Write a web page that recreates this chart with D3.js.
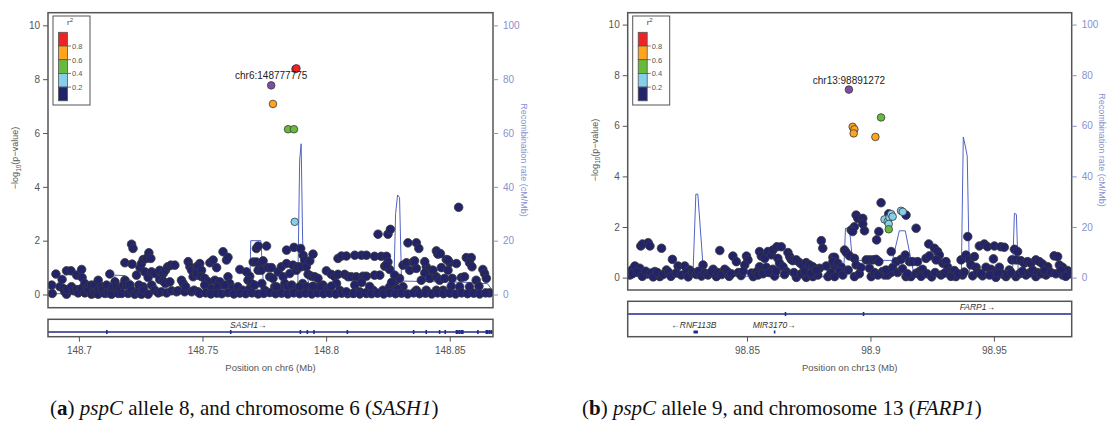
<!DOCTYPE html>
<html>
<head>
<meta charset="utf-8">
<title>LocusZoom plots</title>
<script src="https://cdnjs.cloudflare.com/ajax/libs/d3/7.8.5/d3.min.js"></script>
<style>
  body{margin:0;background:#fff;}
  svg{display:block;font-family:"Liberation Sans",Arial,sans-serif;}
</style>
</head>
<body>
<script>
// ---- LD legend ----
const ldBreaks = [0.2, 0.4, 0.6, 0.8];
const ldColors = ['#22236b', '#87ceeb', '#66bb3c', '#ffa41c', '#ee2326'];
const leadColor = '#7b4ea3';

// ---- chr6 (SASH1) : [position Mb, -log10 p] for r2 < 0.2 ----
const chr6Snps = [
 [148.6890,0.35],[148.6892,0.04],[148.6907,0.76],[148.6923,0.29],[148.6932,0.56],[148.6937,0.22],[148.6943,0.10],
 [148.6950,0.88],[148.6950,0.01],[148.6954,0.18],[148.6968,0.88],[148.6970,0.29],[148.6978,0.14],[148.6991,0.72],
 [148.6991,0.18],[148.6997,0.06],[148.7011,0.93],[148.7011,0.22],[148.7013,0.63],[148.7024,0.41],[148.7024,0.06],
 [148.7038,0.29],[148.7038,0.14],[148.7051,0.35],[148.7051,0.01],[148.7065,0.35],[148.7065,0.06],[148.7078,0.53],
 [148.7078,0.16],[148.7078,0.01],[148.7092,0.29],[148.7098,0.16],[148.7105,0.04],[148.7112,0.35],[148.7118,0.06],
 [148.7125,0.76],[148.7132,0.16],[148.7132,0.01],[148.7138,0.29],[148.7146,0.47],[148.7152,0.29],[148.7159,0.04],
 [148.7166,0.22],[148.7173,0.04],[148.7180,0.35],[148.7186,1.18],[148.7186,0.53],[148.7193,0.35],[148.7199,0.04],
 [148.7206,0.35],[148.7213,1.87],[148.7213,0.16],[148.7215,1.13],[148.7219,1.71],[148.7226,0.01],[148.7233,0.72],
 [148.7240,0.10],[148.7243,0.35],[148.7247,1.00],[148.7253,1.15],[148.7253,0.01],[148.7260,1.30],[148.7260,0.29],
 [148.7262,0.16],[148.7267,0.84],[148.7273,1.34],[148.7280,0.63],[148.7280,0.01],[148.7283,1.55],[148.7291,1.34],
 [148.7294,0.84],[148.7294,0.35],[148.7307,0.78],[148.7307,0.16],[148.7321,0.06],[148.7327,0.90],[148.7327,0.56],
 [148.7334,0.10],[148.7341,0.78],[148.7341,0.50],[148.7350,0.90],[148.7350,0.41],[148.7355,0.06],[148.7359,1.03],
 [148.7368,0.47],[148.7372,1.09],[148.7375,0.14],[148.7388,1.09],[148.7395,0.10],[148.7401,0.14],[148.7415,0.53],
 [148.7422,0.41],[148.7428,0.10],[148.7432,0.29],[148.7442,1.22],[148.7449,1.03],[148.7456,0.90],[148.7456,0.10],
 [148.7462,0.66],[148.7466,0.16],[148.7476,1.03],[148.7482,0.72],[148.7482,0.10],[148.7489,1.15],
 [148.7482,1.03],[148.7476,0.78],[148.7496,0.90],[148.7496,0.66],[148.7509,0.60],[148.7530,1.18],[148.7543,1.28],
 [148.7557,1.00],[148.7583,1.59],[148.7597,1.28],[148.7603,1.38],[148.7523,0.47],[148.7550,0.53],[148.7570,0.47],
 [148.7603,0.66],[148.7610,0.41],[148.7651,0.93],[148.7678,0.84],[148.7691,0.68],[148.7684,0.53],[148.7698,0.41],
 [148.7705,1.21],[148.7718,1.71],[148.7725,1.80],[148.7718,1.21],[148.7732,1.09],[148.7725,0.90],[148.7738,0.90],
 [148.7745,1.25],[148.7759,1.80],[148.7765,1.00],[148.7779,1.00],[148.7772,0.66],[148.7785,0.60],[148.7806,0.84],
 [148.7819,1.03],[148.7826,0.66],[148.7840,1.15],[148.7840,1.65],[148.7853,0.78],[148.7866,1.09],[148.7870,1.75],
 [148.7880,0.90],[148.7886,1.03],[148.7900,1.03],[148.7897,1.71],[148.7907,1.46],[148.7913,1.28],[148.7920,1.03],
 [148.7934,1.25],[148.7947,1.50],[148.7927,0.75],[148.7941,0.68],[148.7954,0.66],[148.7967,0.60],[148.7987,0.35],
 [148.8001,0.88],[148.8021,0.75],[148.8035,0.66],[148.8048,0.75],[148.8042,0.41],[148.8048,1.34],[148.8062,1.43],
 [148.8082,1.43],[148.8075,0.75],[148.8089,0.66],
 [148.7509,0.35],[148.7538,0.22],[148.7562,0.29],[148.7590,0.35],[148.7622,0.22],[148.7643,0.29],[148.7663,0.16],
 [148.7691,0.22],[148.7711,0.35],[148.7740,0.41],[148.7752,0.16],[148.7792,0.29],[148.7812,0.22],[148.7833,0.41],
 [148.7845,0.29],[148.7861,0.35],[148.7881,0.22],[148.7905,0.41],[148.7921,0.29],[148.7946,0.22],[148.7974,0.29],
 [148.7994,0.16],[148.8015,0.22],[148.8055,0.16],
 [148.7489,0.04],[148.7513,0.06],[148.7534,0.02],[148.7558,0.05],[148.7578,0.03],[148.7603,0.07],[148.7627,0.02],
 [148.7651,0.05],[148.7675,0.03],[148.7700,0.06],[148.7725,0.02],[148.7748,0.04],[148.7772,0.07],[148.7796,0.03],
 [148.7820,0.05],[148.7845,0.02],[148.7869,0.06],[148.7893,0.03],[148.7917,0.05],[148.7942,0.02],[148.7966,0.06],
 [148.7990,0.03],[148.8015,0.05],[148.8039,0.02],[148.8063,0.05],[148.8087,0.03],
 [148.8109,0.04],[148.8116,1.46],[148.8143,1.46],[148.8163,1.46],[148.8196,1.42],[148.8223,1.42],[148.8244,1.42],
 [148.8250,1.21],[148.8237,1.05],[148.8257,0.93],[148.8196,0.72],[148.8217,0.72],[148.8102,0.66],[148.8122,0.66],
 [148.8149,0.68],[148.8163,0.68],[148.8210,2.24],[148.8250,2.24],[148.8260,2.42],[148.8536,3.24],[148.8331,1.92],
 [148.8365,1.92],[148.8375,1.71],[148.8446,1.62],[148.8452,1.50],[148.8462,1.52],[148.8430,0.90],[148.8466,1.00],
 [148.8486,1.30],[148.8500,1.18],[148.8493,0.90],[148.8527,1.15],[148.8547,0.63],[148.8567,1.37],[148.8587,1.37],
 [148.8580,1.18],[148.8590,1.03],[148.8634,0.93],[148.8641,0.78],[148.8648,0.60],[148.8661,0.06],[148.8311,1.09],
 [148.8325,1.18],[148.8352,1.21],[148.8338,0.90],[148.8365,0.97],[148.8405,1.03],[148.8412,0.90],[148.8399,0.80],
 [148.8385,0.53],[148.8419,0.60],[148.8446,0.66],[148.8459,0.53],[148.8479,0.60],[148.8510,0.60],[148.8560,0.66],
 [148.8607,0.53],[148.8618,0.31],[148.8580,0.29],[148.8540,0.29],[148.8506,0.31],[148.8473,0.16],[148.8446,0.16],
 [148.8405,0.16],[148.8365,0.16],[148.8311,0.29],[148.8284,0.53],[148.8277,0.26],[148.8257,0.29],[148.8230,0.16],
 [148.8190,0.16],[148.8163,0.04],[148.8136,0.10],[148.8082,0.10],[148.8021,0.31],[148.7974,0.29],[148.7947,0.31],
 [148.7893,0.29],[148.7799,0.29],[148.8358,1.25],[148.8297,0.60],[148.8277,0.72],[148.8244,1.09],[148.8399,1.22],
 [148.8432,0.90],[148.8493,1.28],[148.8116,0.35],[148.8144,0.45],[148.8176,0.30],[148.8265,0.45],[148.8289,0.20],
 [148.8112,0.05],[148.8136,0.02],[148.8160,0.06],[148.8184,0.03],[148.8208,0.05],[148.8233,0.02],[148.8257,0.06],
 [148.8281,0.03],[148.8305,0.05],[148.8330,0.02],[148.8354,0.06],[148.8378,0.03],[148.8402,0.05],[148.8427,0.02],
 [148.8451,0.06],[148.8475,0.03],[148.8500,0.05],[148.8524,0.02],[148.8548,0.06],[148.8572,0.03],[148.8597,0.05],
 [148.8621,0.02],[148.8645,0.06]
];
// [position Mb, -log10 p, r2] for SNPs in LD with the lead
const chr6LdSnps = [
 [148.7873,2.70,0.30],[148.7846,6.14,0.50],[148.7870,6.14,0.50],[148.7785,7.08,0.70],
 [148.7876,8.38,0.90],[148.7880,8.40,0.90]
];
const chr6Lead = {name: 'chr6:148777775', pos: 148.777775, logp: 7.77};
const chr6RecombPos = [148.6891,148.7142,148.7146,148.7186,148.7255,148.7287,148.7295,148.7307,148.7327,148.7691,
 148.7695,148.7736,148.7748,148.7885,148.7893,148.7899,148.7905,148.7913,148.7942,148.8273,148.8281,148.8289,
 148.8297,148.8305,148.8580,148.8653,148.8673];
const chr6RecombRate = [0.3,0.3,7.2,7.0,2.0,1.5,0.3,4.5,0.5,0.5,20,20,0.8,0.8,50,56,20,9,1,0.5,30,37,36,5,4.5,4.0,1.5];
const chr6Genes = [{name: 'SASH1', strand: '+', start: 148.66, end: 148.88, labelPos: 148.7685,
 exons: [148.7113,148.7614,148.7896,148.7924,148.7951,148.8086,148.8354,148.8405,148.8459,148.8482,
  148.8527,148.8533,148.8540,148.8547,148.8553,148.8614,148.8648,148.8654,148.8661,148.8668], row: 0}];

// ---- chr13 (FARP1) ----
const chr13Snps = [
 [98.8026,0.10],[98.8033,0.30],[98.8046,0.46],[98.8066,0.37],[98.8070,1.25],[98.8077,1.33],[98.8100,1.38],
 [98.8107,1.25],[98.8154,1.16],[98.8096,0.14],[98.8127,0.24],[98.8147,0.04],[98.8174,0.30],[98.8198,0.72],
 [98.8221,0.46],[98.8248,0.46],[98.8268,0.30],[98.8322,0.50],[98.8390,1.07],[98.8363,0.33],[98.8410,0.33],
 [98.8443,0.85],[98.8457,0.63],[98.8498,0.85],[98.8504,0.70],[98.8491,0.50],[98.8551,1.03],[98.8558,0.85],
 [98.8572,0.76],[98.8585,1.03],[98.8599,0.90],[98.8605,1.09],[98.8621,1.22],[98.8639,1.22],[98.8625,0.76],
 [98.8632,0.57],[98.8666,0.99],[98.8673,0.83],[98.8679,0.72],[98.8686,0.67],[98.8700,0.70],[98.8713,0.59],
 [98.8724,0.50],[98.8740,0.59],[98.8754,0.50],[98.8767,0.43],[98.8774,0.30],[98.8801,1.46],[98.8807,1.16],
 [98.8794,0.37],[98.8821,0.46],[98.8848,0.80],[98.8855,0.46],[98.8551,0.43],[98.8578,0.41],[98.8605,0.33],
 [98.8646,0.43],[98.8659,0.24],[98.8700,0.01],[98.8740,0.01],[98.8767,0.04],[98.8787,0.10],
 [98.8036,0.15],[98.8056,0.22],[98.8076,0.05],[98.8090,0.25],[98.8112,0.18],[98.8120,0.03],[98.8137,0.20],
 [98.8160,0.12],[98.8182,0.22],[98.8192,0.05],[98.8213,0.18],[98.8234,0.10],[98.8255,0.22],[98.8262,0.03],
 [98.8280,0.20],[98.8295,0.12],[98.8303,0.25],[98.8316,0.06],[98.8330,0.18],[98.8342,0.10],[98.8355,0.22],
 [98.8376,0.04],[98.8383,0.20],[98.8398,0.12],[98.8420,0.24],[98.8428,0.05],[98.8437,0.15],[98.8465,0.20],
 [98.8476,0.08],[98.8485,0.25],[98.8518,0.18],[98.8525,0.04],[98.8538,0.22],[98.8545,0.10],[98.8565,0.15],
 [98.8590,0.20],[98.8612,0.06],[98.8618,0.25],[98.8652,0.12],[98.8690,0.20],[98.8720,0.15],[98.8733,0.25],
 [98.8760,0.18],[98.8781,0.28],[98.8828,0.04],[98.8840,0.20],
 [98.9043,2.96],[98.8942,2.47],[98.8949,2.34],[98.8969,2.34],[98.8969,2.12],[98.8976,1.85],[98.8935,2.01],
 [98.8922,1.88],[98.8928,1.82],[98.9034,1.82],[98.9025,1.49],[98.9144,2.47],[98.9074,2.52],[98.9185,1.95],
 [98.9084,1.03],[98.8895,1.09],[98.8902,0.99],[98.8915,0.86],[98.8935,0.76],[98.8942,0.50],[98.8855,0.80],
 [98.8848,0.63],[98.8868,0.57],[98.8882,0.41],[98.8875,0.24],[98.8888,0.10],[98.8855,0.04],[98.8935,0.04],
 [98.8983,0.70],[98.8996,0.70],[98.9010,0.70],[98.9023,0.72],[98.9034,0.63],[98.8996,0.37],[98.9003,0.04],
 [98.9049,0.24],[98.9057,0.10],[98.9070,0.10],[98.9084,0.20],[98.9104,0.63],[98.9124,0.72],[98.9141,0.89],
 [98.9158,0.63],[98.9171,0.63],[98.9191,0.63],[98.9144,0.04],[98.9164,0.04],[98.9185,0.17],[98.9198,0.24],
 [98.9211,0.33],[98.9225,0.76],[98.9236,1.33],[98.9239,0.86],[98.9259,1.16],[98.9272,1.03],[98.9279,0.89],
 [98.9266,0.70],[98.9293,0.57],[98.9306,0.63],[98.9313,0.41],[98.9320,0.24],[98.9340,0.28],[98.9346,0.04],
 [98.9367,0.70],[98.9387,0.89],[98.9394,1.62],[98.9401,0.70],[98.9407,0.50],[98.9421,0.83],[98.9428,0.41],
 [98.9441,1.25],[98.9461,1.33],[98.9474,1.22],[98.9502,1.25],[98.9528,1.22],[98.9542,1.20],[98.9498,0.74],
 [98.9468,0.41],[98.9488,0.33],[98.9508,0.24],[98.9522,0.41],[98.9535,0.14],[98.9562,0.30],[98.9583,1.12],
 [98.9596,1.03],[98.9573,0.70],[98.9589,0.70],[98.9609,0.67],[98.9623,0.57],[98.9636,0.63],[98.9650,0.57],
 [98.9670,0.70],[98.9684,0.63],[98.9697,0.54],[98.9718,0.43],[98.9744,0.86],[98.9758,0.83],[98.9765,0.50],
 [98.9778,0.41],[98.9785,0.24],[98.9798,0.28],[98.9805,0.14],[98.9778,0.10],[98.9711,0.10],[98.9670,0.04],
 [98.9630,0.10],[98.9589,0.04],[98.9549,0.04],[98.9508,0.01],[98.9454,0.07],[98.9414,0.07],[98.9373,0.10],
 [98.9205,0.05],[98.9230,0.15],[98.9248,0.03],[98.9262,0.20],[98.9286,0.10],[98.9300,0.18],[98.9326,0.05],
 [98.9355,0.15],[98.9380,0.22],[98.9435,0.20],[98.9448,0.15],[98.9482,0.10],[98.9515,0.18],[98.9555,0.12],
 [98.9570,0.20],[98.9603,0.15],[98.9615,0.25],[98.9643,0.18],[98.9657,0.30],[98.9677,0.20],[98.9690,0.15],
 [98.9704,0.28],[98.9731,0.20],[98.9751,0.15],[98.9771,0.30],[98.9791,0.05],
 [98.8910,0.30],[98.8955,0.15],[98.8962,0.40],[98.9017,0.20],[98.9030,0.10],[98.9063,0.30],[98.9090,0.40],
 [98.9110,0.20],[98.9130,0.35],[98.9150,0.15]
];
const chr13LdSnps = [
 [98.9057,2.30,0.30],[98.9070,2.21,0.30],[98.9077,2.38,0.30],[98.9084,2.51,0.30],[98.9090,2.41,0.30],
 [98.9074,2.12,0.30],[98.9124,2.64,0.30],[98.9131,2.60,0.30],[98.9074,1.91,0.50],[98.9043,6.33,0.50],
 [98.8928,5.96,0.70],[98.8935,5.86,0.70],[98.8932,5.70,0.70],[98.9020,5.56,0.70]
];
const chr13Lead = {name: 'chr13:98891272', pos: 98.891272, logp: 7.43};
const chr13RecombPos = [98.8017,98.8281,98.8293,98.8301,98.8325,98.8632,98.8644,98.8673,98.8685,98.8891,98.8899,
 98.8915,98.8927,98.9089,98.9117,98.9141,98.9178,98.9368,98.9376,98.9384,98.9392,98.9401,98.9575,98.9583,
 98.9591,98.9599,98.9809];
const chr13RecombRate = [0.4,0.4,33,33,0.6,0.5,1.2,1.2,0.3,0.4,19.5,19.5,6.8,6.8,18.5,18.5,0.4,0.4,55.6,52,48,
 0.4,0.4,25.4,25,0.4,0.4];
const chr13Genes = [
 {name: 'FARP1', strand: '+', start: 98.79, end: 99.0, labelPos: 98.9433, exons: [98.8656, 98.8972], row: 0},
 {name: 'RNF113B', strand: '-', start: 98.8284, end: 98.8301, labelPos: 98.8285, exons: [], row: 1},
 {name: 'MIR3170', strand: '+', start: 98.8609, end: 98.8611, labelPos: 98.8610, exons: [], row: 1}
];

const yTicks = [0, 2, 4, 6, 8, 10];
const recombTicks = [0, 20, 40, 60, 80, 100];
const chr6Ticks = [148.7, 148.75, 148.8, 148.85];
const chr13Ticks = [98.85, 98.9, 98.95];

const svg = d3.select('body').append('svg')
  .attr('width', 1108).attr('height', 427);
svg.append('rect').attr('width', 1108).attr('height', 427).attr('fill', '#fff');

const ldColor = r2 => ldColors[d3.bisect(ldBreaks, r2)];

function drawPanel(p) {
  const g = svg.append('g');
  const x = d3.scaleLinear().domain(p.domain).range([p.left, p.right]);
  const y = d3.scaleLinear().domain([-0.49, 10.47]).range([p.bottom, p.top]);
  const yr = d3.scaleLinear().domain([-4.9, 104.7]).range([p.bottom, p.top]);

  // clip for marks
  const clipId = 'clip' + p.id;
  g.append('clipPath').attr('id', clipId).append('rect')
    .attr('x', p.left).attr('y', p.top).attr('width', p.right - p.left).attr('height', p.bottom - p.top);

  // recombination line
  const recomb = p.recPos.map((d, i) => [d, p.recRate[i]]);
  g.append('path').datum(recomb)
    .attr('clip-path', `url(#${clipId})`)
    .attr('d', d3.line().x(d => x(d[0])).y(d => yr(d[1])))
    .attr('fill', 'none').attr('stroke', '#5263c4').attr('stroke-width', 1);

  // snps
  const marks = g.append('g').attr('clip-path', `url(#${clipId})`);
  marks.selectAll('circle.snp').data(p.snps).enter().append('circle')
    .attr('class', 'snp')
    .attr('cx', d => x(d[0])).attr('cy', d => y(d[1])).attr('r', 4.3)
    .attr('fill', ldColors[0]).attr('stroke', '#3a3a3a').attr('stroke-width', 0.8);
  marks.selectAll('circle.ld').data(p.ld.slice().sort((a, b) => a[2] - b[2])).enter().append('circle')
    .attr('class', 'ld')
    .attr('cx', d => x(d[0])).attr('cy', d => y(d[1])).attr('r', 3.8)
    .attr('fill', d => ldColor(d[2])).attr('stroke', '#3a3a3a').attr('stroke-width', 0.8);
  marks.append('circle')
    .attr('cx', x(p.lead.pos)).attr('cy', y(p.lead.logp)).attr('r', 3.8)
    .attr('fill', leadColor).attr('stroke', '#3a3a3a').attr('stroke-width', 0.8);
  g.append('text').attr('x', x(p.lead.pos)).attr('y', y(p.lead.logp) - p.labelGap)
    .attr('text-anchor', 'middle').attr('font-size', 10).attr('fill', '#222')
    .text(p.lead.name);

  // frame
  g.append('rect').attr('x', p.left).attr('y', p.top)
    .attr('width', p.right - p.left).attr('height', p.bottom - p.top)
    .attr('fill', 'none').attr('stroke', '#555').attr('stroke-width', 1.5);

  // left axis
  const ax = g.append('g').attr('transform', `translate(${p.left},0)`)
    .call(d3.axisLeft(y).tickValues(yTicks).tickSize(5).tickPadding(3));
  ax.select('.domain').remove();
  ax.selectAll('line').attr('stroke', '#555');
  ax.selectAll('text').attr('fill', '#555').attr('font-size', 10)
    .attr('font-family', '"Liberation Sans",Arial,sans-serif');

  // right axis
  const ar = g.append('g').attr('transform', `translate(${p.right},0)`)
    .call(d3.axisRight(yr).tickValues(recombTicks).tickSize(5).tickPadding(5));
  ar.select('.domain').remove();
  ar.selectAll('line').attr('stroke', '#8a90d0');
  ar.selectAll('text').attr('fill', '#8a90d0').attr('font-size', 10)
    .attr('font-family', '"Liberation Sans",Arial,sans-serif');

  // axis titles
  const yl = g.append('text').attr('transform', `translate(${p.left - 30},${p.ylabY}) rotate(-90)`)
    .attr('text-anchor', 'middle').attr('font-size', 9).attr('fill', '#555');
  yl.append('tspan').text('\u2212log');
  yl.append('tspan').attr('font-size', 6.5).attr('dy', 2.5).text('10');
  yl.append('tspan').attr('dy', -2.5).text('(p\u2212value)');
  g.append('text').attr('transform', `translate(${p.right + p.rlabDx},${p.rlabY}) rotate(90)`)
    .attr('text-anchor', 'middle').attr('font-size', 9).attr('fill', '#8a90d0')
    .text('Recombination rate (cM/Mb)');

  // legend
  const lg = g.append('g').attr('transform', `translate(${p.left + 5},16)`);
  lg.append('rect').attr('width', 37).attr('height', 89)
    .attr('fill', '#fff').attr('stroke', '#555').attr('stroke-width', 1);
  const lt = lg.append('text').attr('x', 17).attr('y', 9).attr('text-anchor', 'middle')
    .attr('font-size', 8).attr('fill', '#444');
  lt.append('tspan').text('r');
  lt.append('tspan').attr('font-size', 6).attr('dy', -3).text('2');
  const bh = 13.7;
  const cols = ldColors.slice().reverse();
  lg.selectAll('rect.sw').data(cols).enter().append('rect').attr('class', 'sw')
    .attr('x', 5.5).attr('y', (d, i) => 16.3 + i * bh).attr('width', 9).attr('height', bh)
    .attr('fill', d => d).attr('stroke', '#555').attr('stroke-width', 0.8);
  const labs = ldBreaks.slice().reverse();
  lg.selectAll('line.tk').data(labs).enter().append('line').attr('class', 'tk')
    .attr('x1', 14.5).attr('x2', 18).attr('y1', (d, i) => 16.3 + (i + 1) * bh).attr('y2', (d, i) => 16.3 + (i + 1) * bh)
    .attr('stroke', '#555').attr('stroke-width', 0.8);
  lg.selectAll('text.tl').data(labs).enter().append('text').attr('class', 'tl')
    .attr('x', 19).attr('y', (d, i) => 16.3 + (i + 1) * bh + 2.8)
    .attr('font-size', 7.5).attr('fill', '#555').text(d => d.toFixed(1));

  // gene panel
  const gp = g.append('g');
  const gClip = 'gclip' + p.id;
  gp.append('clipPath').attr('id', gClip).append('rect')
    .attr('x', p.left).attr('y', p.geneTop).attr('width', p.right - p.left).attr('height', p.geneBottom - p.geneTop);
  const gm = gp.append('g').attr('clip-path', `url(#${gClip})`);
  p.genes.forEach(gene => {
    const gy = p.geneRows[gene.row];
    gm.append('line').attr('x1', x(gene.start)).attr('x2', x(gene.end)).attr('y1', gy).attr('y2', gy)
      .attr('stroke', '#1f2a8c').attr('stroke-width', 1.3);
    const w = Math.max(1.5, x(gene.end) - x(gene.start));
    if (gene.end - gene.start < 0.005) {
      gm.append('rect').attr('x', x(gene.start)).attr('y', gy - 1.5).attr('width', w).attr('height', 3)
        .attr('fill', '#1f2a8c');
    }
    gm.selectAll(null).data(gene.exons).enter().append('rect')
      .attr('x', d => x(d) - 0.8).attr('y', gy - 2).attr('width', 1.6).attr('height', 4)
      .attr('fill', '#1f2a8c');
    const lab = gm.append('text').attr('x', x(gene.labelPos)).attr('y', gy - p.geneLabelGap)
      .attr('text-anchor', 'middle').attr('font-size', 8.5).attr('font-style', 'italic').attr('fill', '#333');
    lab.text(gene.strand === '+' ? gene.name + '\u2192' : '\u2190' + gene.name);
  });
  gp.append('rect').attr('x', p.left).attr('y', p.geneTop)
    .attr('width', p.right - p.left).attr('height', p.geneBottom - p.geneTop)
    .attr('fill', 'none').attr('stroke', '#555').attr('stroke-width', 1.5);

  // x axis
  const axx = g.append('g').attr('transform', `translate(0,${p.geneBottom})`)
    .call(d3.axisBottom(x).tickValues(p.xTicks).tickSize(5).tickPadding(5).tickFormat(d => String(+d.toFixed(2))));
  axx.select('.domain').remove();
  axx.selectAll('line').attr('stroke', '#555');
  axx.selectAll('text').attr('fill', '#555').attr('font-size', 10)
    .attr('font-family', '"Liberation Sans",Arial,sans-serif');
  g.append('text').attr('x', (p.left + p.right) / 2).attr('y', 371)
    .attr('text-anchor', 'middle').attr('font-size', 9.5).attr('fill', '#555')
    .text(p.xTitle);
}

drawPanel({id: 'a', left: 48, right: 493, top: 12.7, bottom: 307.7, domain: [148.6875, 148.8675],
  snps: chr6Snps, ld: chr6LdSnps, lead: chr6Lead, recPos: chr6RecombPos, recRate: chr6RecombRate,
  genes: chr6Genes, geneTop: 319.3, geneBottom: 336.7, geneRows: [332], geneLabelGap: 4, xTicks: chr6Ticks,
  xTitle: 'Position on chr6 (Mb)', labelGap: 6, ylabY: 158, rlabY: 160, rlabDx: 28});
drawPanel({id: 'b', left: 627.7, right: 1071.7, top: 12.7, bottom: 290, domain: [98.8017, 98.9815],
  snps: chr13Snps, ld: chr13LdSnps, lead: chr13Lead, recPos: chr13RecombPos, recRate: chr13RecombRate,
  genes: chr13Genes, geneTop: 301.3, geneBottom: 336.7, geneRows: [314, 332], geneLabelGap: 4, xTicks: chr13Ticks,
  xTitle: 'Position on chr13 (Mb)', labelGap: 6, ylabY: 150, rlabY: 150, rlabDx: 27});

// captions
function caption(x0, letter, allele, chrText, gene) {
  const t = svg.append('text').attr('x', x0).attr('y', 415)
    .attr('font-family', '"Liberation Serif","Times New Roman",serif').attr('font-size', 21).attr('fill', '#111');
  t.append('tspan').text('(');
  t.append('tspan').attr('font-weight', 'bold').text(letter);
  t.append('tspan').text(') ');
  t.append('tspan').attr('font-style', 'italic').text('pspC');
  t.append('tspan').text(' allele ' + allele + ', and chromosome ' + chrText + ' (');
  t.append('tspan').attr('font-style', 'italic').text(gene);
  t.append('tspan').text(')');
}
caption(50, 'a', 8, '6', 'SASH1');
caption(582, 'b', 9, '13', 'FARP1');
</script>
</body>
</html>
